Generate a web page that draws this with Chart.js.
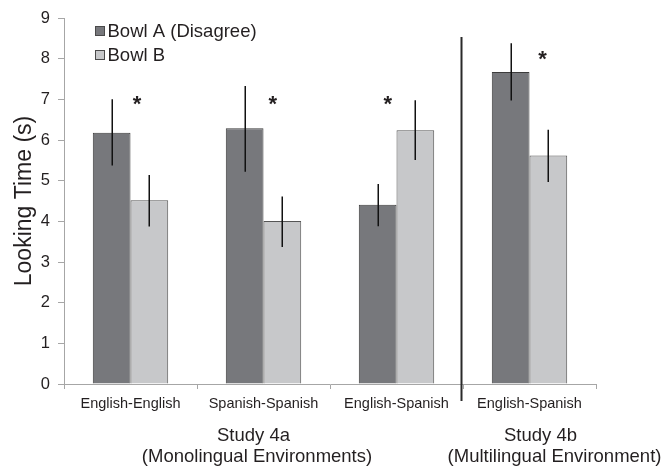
<!DOCTYPE html>
<html>
<head>
<meta charset="utf-8">
<script src="https://cdn.jsdelivr.net/npm/chart.js@4"></script>
<style>
html, body { margin: 0; padding: 0; background: #ffffff; }
#wrap { width: 664px; height: 466px; }
</style>
</head>
<body>
<div id="wrap"><canvas id="c" width="664" height="466"></canvas></div>
<script>
// ---- data ----
const categories = ['English-English', 'Spanish-Spanish', 'English-Spanish', 'English-Spanish'];
const seriesNames = ['Bowl A (Disagree)', 'Bowl B'];
const bowlA = [6.18, 6.29, 4.41, 7.67];
const bowlB = [4.52, 4.01, 6.24, 5.62];
const bowlALow = [5.37, 5.22, 3.88, 6.97];
const bowlAHigh = [7.00, 7.33, 4.92, 8.38];
const bowlBLow = [3.87, 3.37, 5.51, 4.97];
const bowlBHigh = [5.14, 4.61, 6.98, 6.25];
const significance = ['*', '*', '*', '*'];
const significanceLevel = [7.01, 7.01, 7.01, 8.13];
const yTicks = [0, 1, 2, 3, 4, 5, 6, 7, 8, 9];
const groupTitles = [['Study 4a', '(Monolingual Environments)'], ['Study 4b', '(Multilingual Environment)']];
const groupRanges = [[0, 2], [3, 3]];

// ---- style ----
const FONT = '"Liberation Sans", Arial, Helvetica, sans-serif';
const TEXT = '#231f20';
const DARK = '#77787c';
const LIGHT = '#c7c8ca';
const EDGE = '#3c3c3c';
const AXIS = '#a6a6a6';
Chart.defaults.font.family = FONT;
Chart.defaults.color = TEXT;

const starShift = [0.05, 0.07, -0.065, 0.098];
const groupShift = [[-10, -6.5], [11, 25]];

const overlay = {
  id: 'overlay',
  afterDatasetsDraw(chart) {
    const { ctx, chartArea: ca, scales } = chart;
    const xs = scales.x, ys = scales.y;
    ctx.save();
    // error bars
    const errs = [[bowlALow, bowlAHigh], [bowlBLow, bowlBHigh]];
    ctx.strokeStyle = '#111111';
    ctx.lineWidth = 1.5;
    errs.forEach((pair, di) => {
      const meta = chart.getDatasetMeta(di);
      meta.data.forEach((bar, i) => {
        const bx = Math.round(bar.x) + 0.25;
        ctx.beginPath();
        ctx.moveTo(bx, ys.getPixelForValue(pair[0][i]));
        ctx.lineTo(bx, ys.getPixelForValue(pair[1][i]));
        ctx.stroke();
      });
    });
    // significance stars
    const cw = xs.getPixelForValue(1) - xs.getPixelForValue(0);
    const fs = 22;
    ctx.fillStyle = TEXT;
    ctx.font = 'bold ' + fs + 'px ' + FONT;
    ctx.textAlign = 'center';
    ctx.textBaseline = 'alphabetic';
    significance.forEach((s, i) => {
      const sx = xs.getPixelForValue(i) + starShift[i] * cw;
      const sy = ys.getPixelForValue(significanceLevel[i]) + 0.57 * fs;
      ctx.fillText(s, sx, sy);
    });
    // divider between studies
    const dx = (xs.getPixelForValue(2) + xs.getPixelForValue(3)) / 2 - 1.5;
    ctx.strokeStyle = '#2a2a2a';
    ctx.lineWidth = 2;
    ctx.beginPath();
    ctx.moveTo(dx, ca.top + 19);
    ctx.lineTo(dx, ca.bottom + 17);
    ctx.stroke();
    // legend
    const colors = [DARK, LIGHT];
    ctx.font = '18.5px ' + FONT;
    ctx.textAlign = 'left';
    ctx.textBaseline = 'middle';
    seriesNames.forEach((name, i) => {
      const cy = ca.top + 13 + i * 24;
      ctx.fillStyle = colors[i];
      ctx.fillRect(ca.left + 31, cy - 5, 10, 10);
      ctx.strokeStyle = '#4a4a4a';
      ctx.lineWidth = 1;
      ctx.strokeRect(ca.left + 31.5, cy - 4.5, 9, 9);
      ctx.fillStyle = TEXT;
      ctx.fillText(name, ca.left + 43.5, cy + 1);
    });
    // group titles
    ctx.font = '18.5px ' + FONT;
    ctx.textAlign = 'center';
    ctx.textBaseline = 'alphabetic';
    groupTitles.forEach((lines, g) => {
      const r = groupRanges[g];
      const cx = (xs.getPixelForValue(r[0]) + xs.getPixelForValue(r[1])) / 2;
      lines.forEach((t, li) => {
        ctx.fillText(t, cx + groupShift[g][li], ca.bottom + 57 + li * 21);
      });
    });
    ctx.restore();
  }
};

new Chart(document.getElementById('c'), {
  type: 'bar',
  data: {
    labels: categories,
    datasets: [
      { label: seriesNames[0], data: bowlA, backgroundColor: DARK, borderColor: EDGE, borderWidth: 1, categoryPercentage: 0.567, barPercentage: 1.0 },
      { label: seriesNames[1], data: bowlB, backgroundColor: LIGHT, borderColor: '#555555', borderWidth: 1, categoryPercentage: 0.567, barPercentage: 1.0 }
    ]
  },
  options: {
    responsive: false,
    animation: false,
    devicePixelRatio: 1,
    layout: { padding: { left: 0, top: 18, right: 68, bottom: 0 } },
    plugins: { legend: { display: false }, tooltip: { enabled: false } },
    scales: {
      x: {
        grid: { offset: true, drawOnChartArea: false, drawTicks: true, tickLength: 5, tickColor: AXIS },
        border: { color: AXIS, width: 1 },
        ticks: { font: { size: 14.5 }, color: TEXT, padding: 6, maxRotation: 0, autoSkip: false },
        afterFit(scale) { scale.height = 82; }
      },
      y: {
        min: 0, max: 9,
        afterBuildTicks(scale) { scale.ticks = yTicks.map(v => ({ value: v })); },
        grid: { drawOnChartArea: false, drawTicks: true, tickLength: 6, tickColor: AXIS },
        border: { color: AXIS, width: 1 },
        ticks: { font: { size: 16.5 }, color: TEXT, padding: 8 },
        title: { display: true, text: 'Looking Time (s)', font: { size: 23 }, color: TEXT, padding: { top: 11, bottom: 0 } },
        afterFit(scale) { scale.width = 64; }
      }
    }
  },
  plugins: [overlay]
});
</script>
</body>
</html>
